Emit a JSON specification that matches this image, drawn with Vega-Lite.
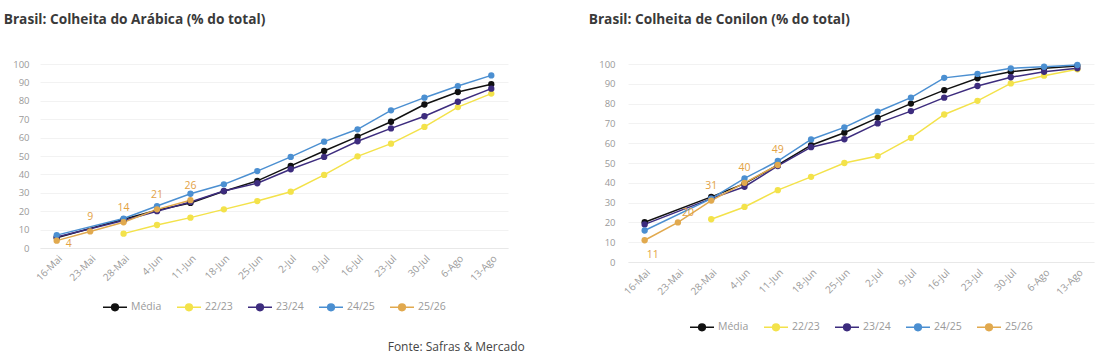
{
  "$schema": "https://vega.github.io/schema/vega-lite/v6.json",
  "padding": {"left": 3, "top": 13, "right": 5, "bottom": 4},
  "background": "white",
  "config": {
    "font": "Open Sans",
    "view": {"stroke": null},
    "axis": {"labelColor": "#9a9a9a", "labelFontSize": 9.5, "title": null, "ticks": false, "domain": false, "gridColor": "#f2f2f2"},
    "legend": {"orient": "bottom", "direction": "horizontal", "title": null, "labelFontSize": 10.5, "labelColor": "#9a9a9a", "symbolStrokeWidth": 1.5, "columnPadding": 12, "offset": 16, "symbolType": "M-1,0H1M0.28,0A0.28,0.28,0,1,1,-0.28,0A0.28,0.28,0,1,1,0.28,0", "symbolSize": 576, "labelOffset": 3, "layout": {"bottom": {"anchor": "middle"}}}
  },
  "title": {"text": "Fonte: Safras & Mercado", "orient": "bottom", "anchor": "start", "dx": 384, "offset": 8, "fontSize": 12, "fontWeight": "normal", "color": "#444444"},
  "datasets": {
    "arabica": [
      {"s": "Média", "d": "16-Mai", "v": 5.6}, {"s": "Média", "d": "28-Mai", "v": 15.6}, {"s": "Média", "d": "4-Jun", "v": 20.5}, {"s": "Média", "d": "11-Jun", "v": 24.5}, {"s": "Média", "d": "18-Jun", "v": 30.8}, {"s": "Média", "d": "25-Jun", "v": 36.5}, {"s": "Média", "d": "2-Jul", "v": 44.6}, {"s": "Média", "d": "9-Jul", "v": 52.7}, {"s": "Média", "d": "16-Jul", "v": 60.5}, {"s": "Média", "d": "23-Jul", "v": 68.6}, {"s": "Média", "d": "30-Jul", "v": 78}, {"s": "Média", "d": "6-Ago", "v": 84.8}, {"s": "Média", "d": "13-Ago", "v": 89},
      {"s": "22/23", "d": "28-Mai", "v": 7.8}, {"s": "22/23", "d": "4-Jun", "v": 12.5}, {"s": "22/23", "d": "11-Jun", "v": 16.5}, {"s": "22/23", "d": "18-Jun", "v": 21}, {"s": "22/23", "d": "25-Jun", "v": 25.5}, {"s": "22/23", "d": "2-Jul", "v": 30.6}, {"s": "22/23", "d": "9-Jul", "v": 39.7}, {"s": "22/23", "d": "16-Jul", "v": 49.8}, {"s": "22/23", "d": "23-Jul", "v": 56.7}, {"s": "22/23", "d": "30-Jul", "v": 65.8}, {"s": "22/23", "d": "6-Ago", "v": 76.6}, {"s": "22/23", "d": "13-Ago", "v": 83.9},
      {"s": "23/24", "d": "16-Mai", "v": 6}, {"s": "23/24", "d": "28-Mai", "v": 15}, {"s": "23/24", "d": "4-Jun", "v": 20}, {"s": "23/24", "d": "11-Jun", "v": 25}, {"s": "23/24", "d": "18-Jun", "v": 31}, {"s": "23/24", "d": "25-Jun", "v": 35.2}, {"s": "23/24", "d": "2-Jul", "v": 42.8}, {"s": "23/24", "d": "9-Jul", "v": 49.5}, {"s": "23/24", "d": "16-Jul", "v": 58}, {"s": "23/24", "d": "23-Jul", "v": 65}, {"s": "23/24", "d": "30-Jul", "v": 71.6}, {"s": "23/24", "d": "6-Ago", "v": 79.5}, {"s": "23/24", "d": "13-Ago", "v": 86.6},
      {"s": "24/25", "d": "16-Mai", "v": 7}, {"s": "24/25", "d": "28-Mai", "v": 16}, {"s": "24/25", "d": "4-Jun", "v": 22.8}, {"s": "24/25", "d": "11-Jun", "v": 29.5}, {"s": "24/25", "d": "18-Jun", "v": 34.6}, {"s": "24/25", "d": "25-Jun", "v": 41.8}, {"s": "24/25", "d": "2-Jul", "v": 49.5}, {"s": "24/25", "d": "9-Jul", "v": 57.8}, {"s": "24/25", "d": "16-Jul", "v": 64.5}, {"s": "24/25", "d": "23-Jul", "v": 74.8}, {"s": "24/25", "d": "30-Jul", "v": 81.7}, {"s": "24/25", "d": "6-Ago", "v": 88}, {"s": "24/25", "d": "13-Ago", "v": 93.8},
      {"s": "25/26", "d": "16-Mai", "v": 4}, {"s": "25/26", "d": "23-Mai", "v": 9}, {"s": "25/26", "d": "28-Mai", "v": 14}, {"s": "25/26", "d": "4-Jun", "v": 21}, {"s": "25/26", "d": "11-Jun", "v": 26}
    ],
    "conilon": [
      {"s": "Média", "d": "16-Mai", "v": 20.1}, {"s": "Média", "d": "28-Mai", "v": 32.9}, {"s": "Média", "d": "4-Jun", "v": 39.6}, {"s": "Média", "d": "11-Jun", "v": 49}, {"s": "Média", "d": "18-Jun", "v": 59}, {"s": "Média", "d": "25-Jun", "v": 65.3}, {"s": "Média", "d": "2-Jul", "v": 72.8}, {"s": "Média", "d": "9-Jul", "v": 80}, {"s": "Média", "d": "16-Jul", "v": 86.8}, {"s": "Média", "d": "23-Jul", "v": 92.8}, {"s": "Média", "d": "30-Jul", "v": 96.1}, {"s": "Média", "d": "6-Ago", "v": 97.8}, {"s": "Média", "d": "13-Ago", "v": 99},
      {"s": "22/23", "d": "28-Mai", "v": 21.6}, {"s": "22/23", "d": "4-Jun", "v": 27.8}, {"s": "22/23", "d": "11-Jun", "v": 36.3}, {"s": "22/23", "d": "18-Jun", "v": 43}, {"s": "22/23", "d": "25-Jun", "v": 50}, {"s": "22/23", "d": "2-Jul", "v": 53.5}, {"s": "22/23", "d": "9-Jul", "v": 62.7}, {"s": "22/23", "d": "16-Jul", "v": 74.5}, {"s": "22/23", "d": "23-Jul", "v": 81.4}, {"s": "22/23", "d": "30-Jul", "v": 90.2}, {"s": "22/23", "d": "6-Ago", "v": 94.1}, {"s": "22/23", "d": "13-Ago", "v": 97.3},
      {"s": "23/24", "d": "16-Mai", "v": 19}, {"s": "23/24", "d": "28-Mai", "v": 32}, {"s": "23/24", "d": "4-Jun", "v": 38}, {"s": "23/24", "d": "11-Jun", "v": 48.5}, {"s": "23/24", "d": "18-Jun", "v": 58}, {"s": "23/24", "d": "25-Jun", "v": 62}, {"s": "23/24", "d": "2-Jul", "v": 70}, {"s": "23/24", "d": "9-Jul", "v": 76.2}, {"s": "23/24", "d": "16-Jul", "v": 83}, {"s": "23/24", "d": "23-Jul", "v": 88.9}, {"s": "23/24", "d": "30-Jul", "v": 93.3}, {"s": "23/24", "d": "6-Ago", "v": 96.1}, {"s": "23/24", "d": "13-Ago", "v": 97.8},
      {"s": "24/25", "d": "16-Mai", "v": 15.9}, {"s": "24/25", "d": "28-Mai", "v": 32}, {"s": "24/25", "d": "4-Jun", "v": 42.2}, {"s": "24/25", "d": "11-Jun", "v": 51}, {"s": "24/25", "d": "18-Jun", "v": 61.9}, {"s": "24/25", "d": "25-Jun", "v": 68}, {"s": "24/25", "d": "2-Jul", "v": 75.9}, {"s": "24/25", "d": "9-Jul", "v": 83}, {"s": "24/25", "d": "16-Jul", "v": 93}, {"s": "24/25", "d": "23-Jul", "v": 95}, {"s": "24/25", "d": "30-Jul", "v": 97.8}, {"s": "24/25", "d": "6-Ago", "v": 98.6}, {"s": "24/25", "d": "13-Ago", "v": 99.5},
      {"s": "25/26", "d": "16-Mai", "v": 11}, {"s": "25/26", "d": "23-Mai", "v": 20}, {"s": "25/26", "d": "28-Mai", "v": 31}, {"s": "25/26", "d": "4-Jun", "v": 40}, {"s": "25/26", "d": "11-Jun", "v": 49}
    ]
  },
  "spacing": 80,
  "resolve": {"scale": {"color": "independent"}, "legend": {"color": "independent"}},
  "hconcat": [
    {
      "width": 468, "height": 184,
      "title": {"text": "Brasil: Colheita do Arábica (% do total)", "anchor": "start", "frame": "bounds", "dx": -9, "offset": 32, "fontSize": 13.7, "fontWeight": "bold", "color": "#3a3a3a"},
      "data": {"name": "arabica"},
      "encoding": {
        "x": {"field": "d", "type": "ordinal", "sort": ["16-Mai", "23-Mai", "28-Mai", "4-Jun", "11-Jun", "18-Jun", "25-Jun", "2-Jul", "9-Jul", "16-Jul", "23-Jul", "30-Jul", "6-Ago", "13-Ago"], "scale": {"type": "point", "padding": 0.5}, "axis": {"labelAngle": -45, "labelFontSize": 10, "domain": true, "domainColor": "#e8e8e8", "labelPadding": 5, "grid": false}},
        "y": {"field": "v", "type": "quantitative", "scale": {"domain": [0, 100]}, "axis": {"values": [0, 10, 20, 30, 40, 50, 60, 70, 80, 90, 100], "labelPadding": 11, "grid": true}}
      },
      "layer": [
        {"mark": {"type": "line", "strokeWidth": 1.5}, "encoding": {"order": {"value": null}, "color": {"field": "s", "type": "nominal", "scale": {"domain": ["Média", "22/23", "23/24", "24/25", "25/26"], "range": ["#111111", "#F3E24A", "#3D2C7E", "#4B8FD1", "#E1A94E"]}, "legend": {"offset": 11}}}},
        {"mark": {"type": "point", "filled": true, "size": 40, "opacity": 1}, "encoding": {"color": {"field": "s", "type": "nominal", "scale": {"domain": ["Média", "22/23", "23/24", "24/25", "25/26"], "range": ["#111111", "#F3E24A", "#3D2C7E", "#4B8FD1", "#E1A94E"]}, "legend": {"offset": 11}}}},
        {"transform": [{"filter": "datum.s === '25/26' && datum.d !== '16-Mai'"}], "mark": {"type": "text", "dy": -14, "fontSize": 10.5, "color": "#E3A244"}, "encoding": {"text": {"field": "v", "type": "quantitative"}}},
        {"transform": [{"filter": "datum.s === '25/26' && datum.d === '16-Mai'"}], "mark": {"type": "text", "dx": 12, "dy": 3, "fontSize": 10.5, "color": "#E3A244"}, "encoding": {"text": {"field": "v", "type": "quantitative"}}}
      ]
    },
    {
      "width": 466, "height": 198,
      "title": {"text": "Brasil: Colheita de Conilon (% do total)", "anchor": "start", "frame": "bounds", "dx": -10, "offset": 32, "fontSize": 13.7, "fontWeight": "bold", "color": "#3a3a3a"},
      "data": {"name": "conilon"},
      "encoding": {
        "x": {"field": "d", "type": "ordinal", "sort": ["16-Mai", "23-Mai", "28-Mai", "4-Jun", "11-Jun", "18-Jun", "25-Jun", "2-Jul", "9-Jul", "16-Jul", "23-Jul", "30-Jul", "6-Ago", "13-Ago"], "scale": {"type": "point", "padding": 0.5}, "axis": {"labelAngle": -45, "labelFontSize": 10, "domain": true, "domainColor": "#e8e8e8", "labelPadding": 5, "grid": false}},
        "y": {"field": "v", "type": "quantitative", "scale": {"domain": [0, 100]}, "axis": {"values": [0, 10, 20, 30, 40, 50, 60, 70, 80, 90, 100], "labelPadding": 13, "grid": true}}
      },
      "layer": [
        {"mark": {"type": "line", "strokeWidth": 1.5}, "encoding": {"order": {"value": null}, "color": {"field": "s", "type": "nominal", "scale": {"domain": ["Média", "22/23", "23/24", "24/25", "25/26"], "range": ["#111111", "#F3E24A", "#3D2C7E", "#4B8FD1", "#E1A94E"]}, "legend": {"offset": 17}}}},
        {"mark": {"type": "point", "filled": true, "size": 40, "opacity": 1}, "encoding": {"color": {"field": "s", "type": "nominal", "scale": {"domain": ["Média", "22/23", "23/24", "24/25", "25/26"], "range": ["#111111", "#F3E24A", "#3D2C7E", "#4B8FD1", "#E1A94E"]}, "legend": {"offset": 17}}}},
        {"transform": [{"filter": "datum.s === '25/26' && datum.d !== '16-Mai' && datum.d !== '23-Mai'"}], "mark": {"type": "text", "dy": -15, "fontSize": 10.5, "color": "#E3A244"}, "encoding": {"text": {"field": "v", "type": "quantitative"}}},
        {"transform": [{"filter": "datum.s === '25/26' && datum.d === '16-Mai'"}], "mark": {"type": "text", "dx": 8, "dy": 15, "fontSize": 10.5, "color": "#E3A244"}, "encoding": {"text": {"field": "v", "type": "quantitative"}}},
        {"transform": [{"filter": "datum.s === '25/26' && datum.d === '23-Mai'"}], "mark": {"type": "text", "dx": 10, "dy": -9, "fontSize": 10.5, "color": "#E3A244"}, "encoding": {"text": {"field": "v", "type": "quantitative"}}}
      ]
    }
  ]
}
